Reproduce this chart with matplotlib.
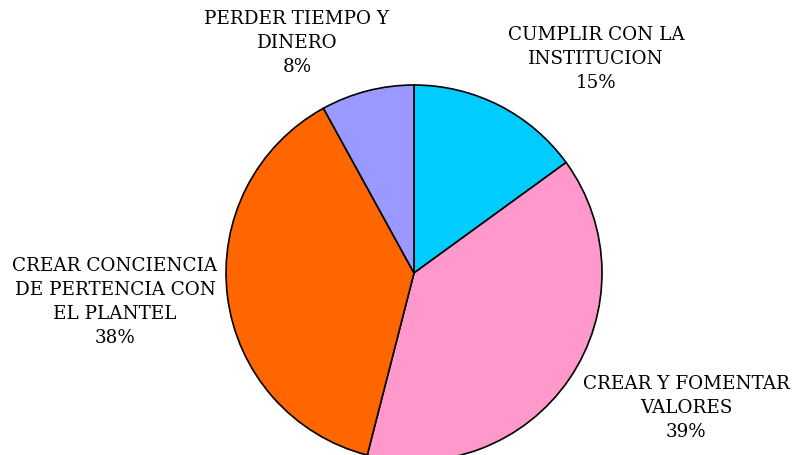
import matplotlib.pyplot as plt

plt.rcParams.update({"font.family": "DejaVu Serif"})

# slice data, clockwise from 12 o'clock
labels = ["CUMPLIR CON LA\nINSTITUCION", "CREAR Y FOMENTAR\nVALORES",
          "CREAR CONCIENCIA\nDE PERTENCIA CON\nEL PLANTEL", "PERDER TIEMPO Y\nDINERO"]
values = [15, 39, 38, 8]
colors = ["#00CCFF", "#FF99CC", "#FF6600", "#9999FF"]

# label block centres in pixel coords (origin top-left)
label_pos = [(596, 59), (686, 408), (115, 302), (297, 43)]

W, H = 794, 455
fig = plt.figure(figsize=(W / 100, H / 100), dpi=100)
ax = fig.add_axes([0, 0, 1, 1])

ax.pie(values, colors=colors, startangle=90, counterclock=False,
       center=(414, H - 273), radius=188,
       wedgeprops={"edgecolor": "black", "linewidth": 1.2})

total = float(sum(values))
for lab, v, (px, py) in zip(labels, values, label_pos):
    ax.text(px, H - py, "%s\n%d%%" % (lab, round(100 * v / total)),
            ha="center", va="center", fontsize=13.2, linespacing=1.45,
            color="black")

ax.set_xlim(0, W)
ax.set_ylim(0, H)
ax.set_aspect("equal")
ax.axis("off")

fig.savefig("out.png", dpi=100, facecolor="white")
